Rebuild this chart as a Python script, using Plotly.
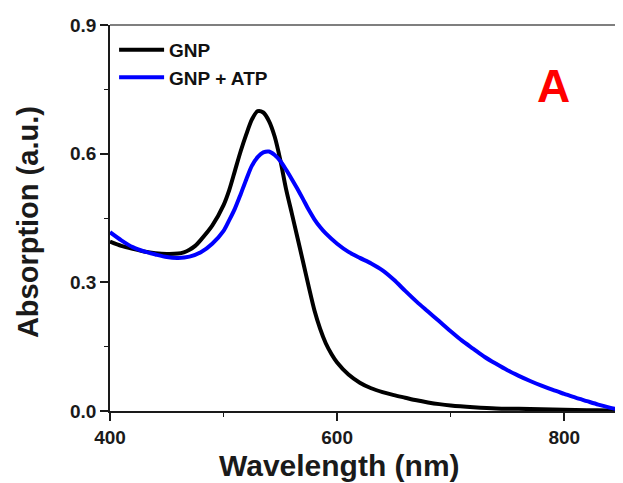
import plotly.graph_objects as go

wl_gnp = [400, 410, 420, 430, 440, 450, 460, 465, 470, 475, 480, 490, 500, 505, 510, 515,
          520, 525, 530, 535, 540, 545, 550, 555, 560, 565, 570, 575, 580, 585, 590, 595,
          600, 610, 620, 630, 640, 650, 660, 670, 680, 690, 700, 720, 740, 760, 780, 800,
          820, 840, 850]
abs_gnp = [0.395, 0.385, 0.378, 0.372, 0.368, 0.366, 0.367, 0.370, 0.376, 0.385, 0.399,
           0.432, 0.480, 0.515, 0.560, 0.605, 0.645, 0.680, 0.699, 0.696, 0.676, 0.640,
           0.585, 0.518, 0.462, 0.405, 0.348, 0.290, 0.235, 0.192, 0.158, 0.133, 0.113,
           0.085, 0.066, 0.053, 0.044, 0.037, 0.031, 0.025, 0.020, 0.016, 0.013, 0.009,
           0.006, 0.005, 0.004, 0.003, 0.002, 0.001, 0.001]

wl_atp = [400, 410, 420, 430, 440, 450, 460, 470, 480, 490, 500, 505, 510, 515, 520, 525,
          530, 535, 540, 545, 550, 555, 560, 565, 570, 575, 580, 585, 590, 600, 610, 620,
          630, 640, 650, 660, 670, 680, 690, 700, 710, 720, 730, 740, 750, 760, 770, 780,
          790, 800, 810, 820, 830, 840, 850]
abs_atp = [0.417, 0.398, 0.382, 0.372, 0.365, 0.359, 0.357, 0.360, 0.370, 0.390, 0.420,
           0.445, 0.472, 0.505, 0.540, 0.572, 0.592, 0.603, 0.605, 0.597, 0.583, 0.563,
           0.541, 0.518, 0.494, 0.469, 0.447, 0.429, 0.414, 0.390, 0.371, 0.357, 0.344,
           0.328, 0.306, 0.280, 0.255, 0.232, 0.209, 0.186, 0.164, 0.145, 0.126, 0.110,
           0.095, 0.082, 0.070, 0.059, 0.049, 0.040, 0.031, 0.023, 0.015, 0.008, 0.002]

series_names = ["GNP", "GNP + ATP"]
x_ticks = [400, 600, 800]
y_ticks = [0.0, 0.3, 0.6, 0.9]
x_title = "Wavelength (nm)"
y_title = "Absorption (a.u.)"
panel_label = "A"

FONT = "Arial, Liberation Sans, sans-serif"
INK = "#1a1a1a"

fig = go.Figure()
fig.add_trace(go.Scatter(x=wl_gnp, y=abs_gnp, mode="lines", name=series_names[0],
                         line=dict(color="#000000", width=4, shape="spline", smoothing=0.8)))
fig.add_trace(go.Scatter(x=wl_atp, y=abs_atp, mode="lines", name=series_names[1],
                         line=dict(color="#0000FF", width=4, shape="spline", smoothing=0.8)))

fig.update_layout(
    width=615, height=475,
    margin=dict(l=102, r=2, t=17, b=72),
    plot_bgcolor="white", paper_bgcolor="white",
    font=dict(family=FONT, color=INK),
    showlegend=True,
    legend=dict(x=0.008, y=0.985, xanchor="left", yanchor="top",
                font=dict(family=FONT, size=19, color="#111111", weight="bold"),
                bgcolor="rgba(0,0,0,0)", itemwidth=45, tracegroupgap=0),
    xaxis=dict(
        range=[400, 850], tickvals=x_ticks, ticktext=[str(v) for v in x_ticks],
        ticks="outside", ticklen=8, tickwidth=1.5, tickcolor=INK,
        showline=True, linecolor=INK, linewidth=1.5, showgrid=False, zeroline=False,
        tickfont=dict(family=FONT, size=19, color=INK, weight="bold"),
        minor=dict(ticks="outside", ticklen=4, tickwidth=1.2, tickcolor=INK, dtick=100, tick0=400, showgrid=False),
    ),
    yaxis=dict(
        range=[0, 0.9], tickvals=y_ticks, ticktext=["%.1f" % v for v in y_ticks],
        ticks="outside", ticklen=8, tickwidth=1.5, tickcolor=INK,
        showline=True, linecolor=INK, linewidth=1.5, showgrid=False, zeroline=False,
        tickfont=dict(family=FONT, size=19, color=INK, weight="bold"),
        minor=dict(ticks="outside", ticklen=4, tickwidth=1.2, tickcolor=INK, dtick=0.15, tick0=0, showgrid=False),
    ),
)

# top and right frame lines
fig.add_shape(type="line", xref="paper", yref="paper", x0=0, x1=1, y0=1, y1=1,
              line=dict(color="#555555", width=1.5))
fig.add_shape(type="line", xref="paper", yref="paper", x0=1, x1=1, y0=0, y1=1,
              line=dict(color="#555555", width=1.5))

# axis titles
fig.add_annotation(text=x_title, xref="paper", yref="paper", x=0.45, y=-0.14,
                   xanchor="center", yanchor="middle", showarrow=False,
                   font=dict(family=FONT, size=30, color=INK, weight="bold"))
fig.add_annotation(text=y_title, xref="paper", yref="paper", x=-0.16, y=0.49,
                   xanchor="center", yanchor="middle", showarrow=False, textangle=-90,
                   font=dict(family=FONT, size=29, color=INK, weight="bold"))

fig.add_annotation(text=panel_label, xref="paper", yref="paper", x=0.867, y=0.842,
                   xanchor="center", yanchor="middle", showarrow=False,
                   font=dict(family=FONT, size=46, color="#FF0000", weight="bold"))

fig.write_html("out.html")
